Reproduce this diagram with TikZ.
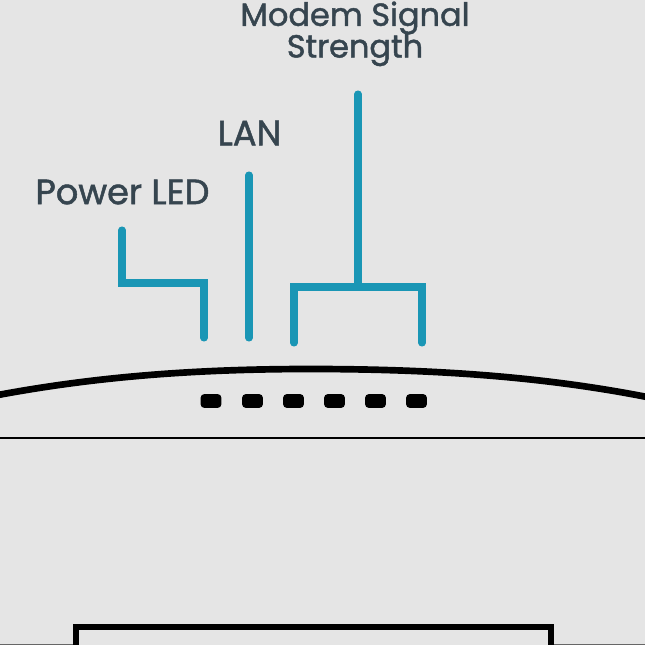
\documentclass[tikz,border=0pt]{standalone}
\usepackage{fontspec}
\setmainfont[FakeBold=1.4]{Poppins}
\definecolor{panel}{HTML}{E5E5E5}
\definecolor{teal}{HTML}{1A96B5}
\definecolor{slate}{HTML}{36454F}
\tikzset{
	lead/.style={draw=teal,line width=4pt,line cap=round,line join=miter},
	caption/.style={text=slate,font=\fontsize{18.2}{18}\selectfont,inner sep=0pt,align=center},
	bigcaption/.style={caption,font=\fontsize{20}{20}\selectfont},
	led/.style={fill=black,rounded corners=2pt,minimum width=11.8pt,minimum height=7.8pt,inner sep=0pt},
	outline/.style={draw=black,line width=3.8pt}
}
\begin{document}
\begin{tikzpicture}[x=0.02cm,y=-0.02cm]
	\useasboundingbox (0,0) rectangle (645,645);
	\fill [panel] (0,0) rectangle (645,645);

	\node [bigcaption] (power) at (122.5,192) {Power LED};
	\node [bigcaption] (lan) at (249.5,133) {LAN};
	\node [caption] (modem) at (355,18) {Modem Signal};
	\node [caption] (strength) at (355,50) {Strength};

	\node [led] (led1) at (211,401) {};
	\node [led] (led2) at (252.5,401) {};
	\node [led] (led3) at (293.5,401) {};
	\node [led] (led4) at (334.5,401) {};
	\node [led] (led5) at (375.5,401) {};
	\node [led] (led6) at (416.5,401) {};

	\coordinate (powertop) at (122,230);
	\coordinate (powerend) at (204,338);
	\coordinate (lantop) at (249,175);
	\coordinate (lanend) at (249,338);
	\coordinate (modemtop) at (358,94);
	\coordinate (modemjoin) at (358,287);
	\coordinate (modemleft) at (294,343);
	\coordinate (modemright) at (422,343);

	\draw [lead] (powertop) |- (160,283) -| (powerend);
	\draw [lead] (lantop) -- (lanend);
	\draw [lead] (modemtop) -- (modemjoin);
	\draw [lead] (modemleft) |- (modemjoin) -| (modemright);

	\coordinate (lidleft) at (-2,395);
	\coordinate (lidright) at (647,397);
	\coordinate (baseleft) at (0,438);
	\coordinate (baseright) at (645,438);
	\draw [outline] (lidleft) .. controls (100,376) and (200,369) .. (310,369) .. controls (430,369) and (540,376) .. (lidright);
	\draw [draw=black,line width=1.7pt] (baseleft) -- (baseright);

	\coordinate (portleft) at (76,650);
	\coordinate (portright) at (551,650);
	\draw [outline] (portleft) |- (314,627) -| (portright);
	\coordinate (edgeleft) at (0,644.5);
	\coordinate (edgeright) at (645,644.5);
	\draw [draw=black!60,line width=0.6pt] (edgeleft) -- (73,644.5);
	\draw [draw=black!60,line width=0.6pt] (554,644.5) -- (edgeright);
\end{tikzpicture}
\end{document}
